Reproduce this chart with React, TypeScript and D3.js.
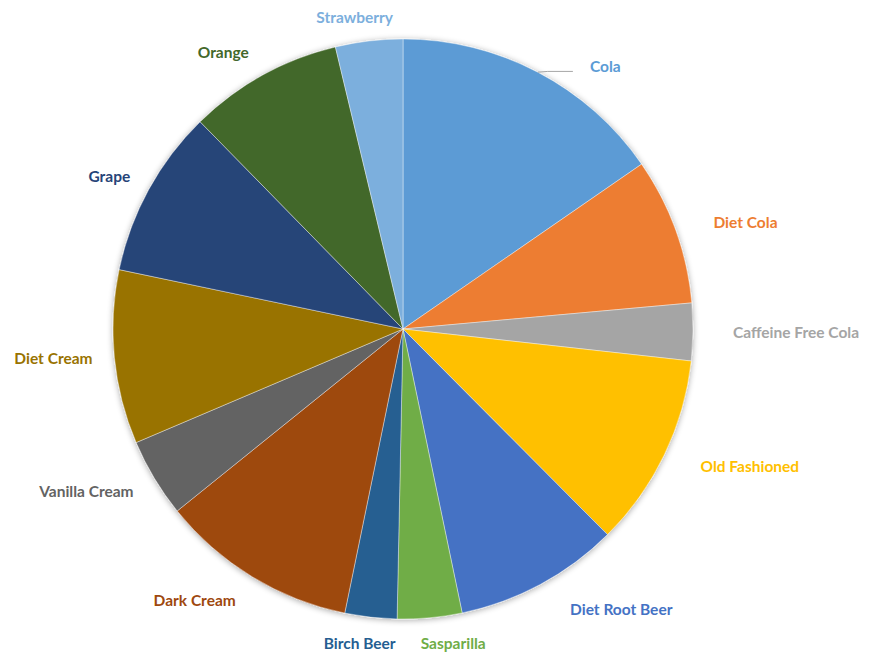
import React from "react";
import * as d3 from "d3";

const categories = [
  "Cola", "Diet Cola", "Caffeine Free Cola", "Old Fashioned", "Diet Root Beer",
  "Sasparilla", "Birch Beer", "Dark Cream", "Vanilla Cream", "Diet Cream",
  "Grape", "Orange", "Strawberry",
];
const values = [15.4, 8.2, 3.2, 10.8, 9.2, 3.6, 2.9, 11.0, 4.4, 9.7, 9.4, 8.6, 3.75];
const colors = [
  "#5B9BD5", "#ED7D31", "#A5A5A5", "#FFC000", "#4472C4",
  "#70AD47", "#255E91", "#9E480E", "#636363", "#997300",
  "#264478", "#43682B", "#7CAFDD",
];

// label nudges (layout only)
const nudges: Record<string, [number, number]> = {
  Cola: [35, 27],
  "Diet Cream": [15, -2],
  Grape: [14, 5],
  Sasparilla: [20, -11],
  "Birch Beer": [-7, -10],
  Strawberry: [-10, 13],
  Orange: [4, 10],
  "Vanilla Cream": [11, -6],
  "Dark Cream": [3, -8],
  "Diet Root Beer": [12, -7],
  "Diet Cola": [3, 5],
  "Caffeine Free Cola": [3, 0],
  "Old Fashioned": [3, -4],
};

const W = 872, H = 653;
const cx = 403, cy = 329, R = 290, LR = 327;

export default function App() {
  const data = categories.map((c, i) => ({ name: c, value: values[i], color: colors[i] }));
  const pie = d3.pie<any>().sort(null).value((d) => d.value);
  const arcs = pie(data);
  const arcGen = d3.arc<any>().innerRadius(0).outerRadius(R);

  return (
    <svg width={W} height={H} style={{ position: "absolute", left: 0, top: 0 }}
      fontFamily="Lato, 'Open Sans', sans-serif">
      <defs>
        <filter id="sh" x="-10%" y="-10%" width="120%" height="120%">
          <feGaussianBlur in="SourceAlpha" stdDeviation="3" />
          <feOffset dx="0" dy="1" result="b" />
          <feComponentTransfer><feFuncA type="linear" slope="0.35" /></feComponentTransfer>
          <feMerge><feMergeNode /><feMergeNode in="SourceGraphic" /></feMerge>
        </filter>
      </defs>
      <rect width={W} height={H} fill="#fff" />
      <g transform={`translate(${cx},${cy})`}>
        <g filter="url(#sh)">
          {arcs.map((a, i) => (
            <path key={i} d={arcGen(a) as string} fill={a.data.color} stroke="#fff" strokeWidth={0.4} />
          ))}
        </g>
        {arcs.map((a, i) => {
          const mid = (a.startAngle + a.endAngle) / 2;
          const s = Math.sin(mid), c = -Math.cos(mid);
          const nd = nudges[a.data.name] || [0, 0];
          const x = s * LR + nd[0];
          const y = c * LR + nd[1];
          const anchor = Math.abs(s) < 0.2 ? "middle" : s > 0 ? "start" : "end";
          const leader = a.data.name === "Cola";
          return (
            <g key={"l" + i}>
              {leader && (
                <polyline
                  points={`${s * R},${c * R} ${s * R + 10},${y + 5} ${x - 17},${y + 5}`}
                  fill="none" stroke="#A6A6A6" strokeWidth={1} />
              )}
              <text x={x} y={y} dy="0.35em" textAnchor={anchor} fill={a.data.color}
                fontSize={15.5} fontWeight="bold">{a.data.name}</text>
            </g>
          );
        })}
      </g>
    </svg>
  );
}
